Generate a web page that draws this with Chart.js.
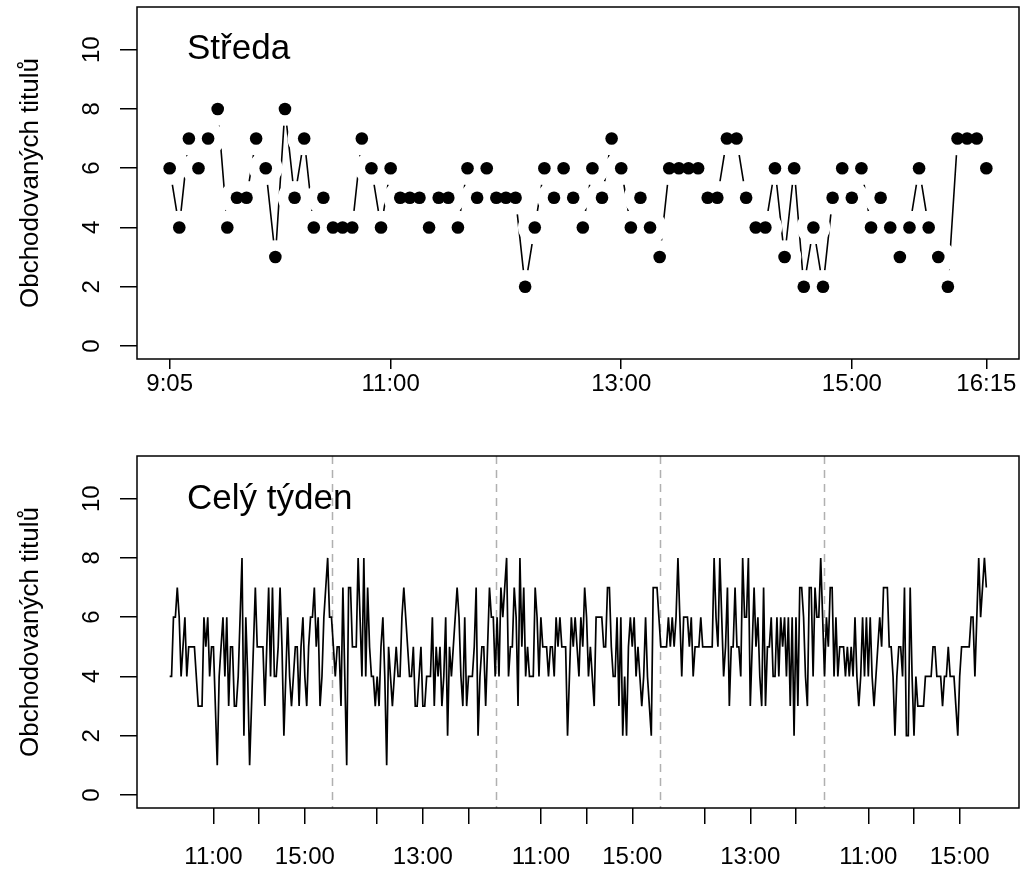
<!DOCTYPE html>
<html>
<head>
<meta charset="utf-8">
<script src="https://cdn.jsdelivr.net/npm/chart.js@4.4.1/dist/chart.umd.min.js"></script>
<style>
  body { margin: 0; background: #fff; }
  canvas { position: absolute; left: 0; }
</style>
</head>
<body>
<canvas id="wed" width="1027" height="435" style="top:0"></canvas>
<canvas id="week" width="1027" height="435" style="top:435px"></canvas>
<script>
// traded titles per 5-minute slot, one array per day (Mon..Fri)
const mon = [4,4,6,6,7,6,4,5,6,4, 5,5,5,5,4,3,3,3,6,5, 6,4,5,5,3,1,4,5,6,4, 6,3,5,5,3,3,4,6,8,2,
             6,4,1,3,5,7,5,5,5,5, 3,5,7,4,7,4,4,5,7,5, 2,4,6,4,3,4,5,5,3,5, 6,4,3,5,6,6,7,5,6,3,
             4,6,7,8,6,6];
const tue = [5,4,5,5,3,7,4,1,7,7, 5,5,5,8,6,4,8,4,7,5, 4,4,3,4,3,5,6,4,1,5, 4,3,4,5,4,4,6,7,6,5,
             4,4,5,3,3,4,5,3,3,4, 4,4,6,3,5,4,5,3,4,6, 2,5,4,5,6,7,6,4,3,6, 3,4,4,4,5,7,2,4,5,5,
             3,5,7,6,6,4];
const wed = [6,4,7,6,7,8,4,5,5,7, 6,3,8,5,7,4,5,4,4,4, 7,6,4,6,5,5,5,4,5,5, 4,6,5,6,5,5,5,2,4,6,
             5,6,5,4,6,5,7,6,4,5, 4,3,6,6,6,6,5,5,7,7, 5,4,4,6,3,6,2,4,2,5, 6,5,6,4,5,4,3,4,6,4,
             3,2,7,7,7,6];
const thu = [5,5,5,5,6,5,6,5,6,8, 6,4,6,6,6,5,6,4,5,5, 5,6,5,5,5,5,5,5,8,6, 5,8,6,4,5,7,3,5,5,7,
             5,5,4,8,6,6,8,3,5,7, 5,6,4,3,7,3,5,5,6,4, 4,6,4,6,5,6,4,6,3,6, 2,6,3,7,7,6,4,3,7,7,
             4,7,6,6,8,6];
const fri = [4,6,5,7,7,4,6,4,5,5, 5,4,5,4,5,4,6,4,3,4, 6,4,6,4,6,4,3,4,5,6, 5,7,7,7,5,5,4,2,4,5,
             5,4,7,2,2,7,4,2,4,3, 3,3,3,4,4,4,4,5,5,4, 4,4,3,4,4,5,4,4,4,3, 2,4,5,5,5,5,5,6,6,4,
             6,8,6,7,8,7];

const wedTickPos = [0, 23, 47, 71, 85];
const wedTickLabels = ["9:05", "11:00", "13:00", "15:00", "16:15"];
const weekTickPos = [23,47,71, 109,133,157, 195,219,243, 281,305,329, 367,391,415];
const weekTickLabels = ["11:00","","15:00", "","13:00","", "11:00","","15:00", "","13:00","", "11:00","","15:00"];
const dayBreaks = [85.5, 171.5, 257.5, 343.5];
const yTicks = [0, 2, 4, 6, 8, 10];
const yTitle = "Obchodovaných titulů";

const FONT = "'Liberation Sans', Arial, sans-serif";
Chart.defaults.font.family = FONT;
Chart.defaults.color = "#000";

// R-like extras: box, rotated y labels, panel caption, day separators, gaps for type="b"
const rLook = {
  id: "rLook",
  beforeDatasetsDraw(chart, args, o) {
    const { ctx, chartArea: a, scales: { x } } = chart;
    (o.breaks || []).forEach(b => {
      const px = Math.round(x.getPixelForValue(b)) + 0.5;
      ctx.save();
      ctx.strokeStyle = "#b0b0b0";
      ctx.lineWidth = 1.5;
      ctx.setLineDash([8, 6]);
      ctx.beginPath();
      ctx.moveTo(px, a.top);
      ctx.lineTo(px, a.bottom);
      ctx.stroke();
      ctx.restore();
    });
  },
  beforeDatasetDraw(chart, args, o) {
    if (!o.gap || args.index !== 0) return;
    const ctx = chart.ctx;
    ctx.save();
    chart.getDatasetMeta(1).data.forEach(p => {
      ctx.beginPath();
      ctx.rect(0, 0, chart.width, chart.height);
      ctx.moveTo(p.x + o.gap, p.y);
      ctx.arc(p.x, p.y, o.gap, 0, Math.PI * 2);
      ctx.clip("evenodd");
    });
  },
  afterDatasetDraw(chart, args, o) {
    if (!o.gap || args.index !== 0) return;
    chart.ctx.restore();
  },
  afterDraw(chart, args, o) {
    const { ctx, chartArea: a, scales: { y } } = chart;
    ctx.save();
    ctx.strokeStyle = "#000";
    ctx.lineWidth = 1.5;
    ctx.strokeRect(a.left, a.top, a.right - a.left, a.bottom - a.top);
    ctx.fillStyle = "#000";
    ctx.font = "24px " + FONT;
    ctx.textAlign = "center";
    ctx.textBaseline = "middle";
    y.ticks.forEach(t => {
      ctx.save();
      ctx.translate(92, y.getPixelForValue(t.value));
      ctx.rotate(-Math.PI / 2);
      ctx.fillText(String(t.value), 0, 0);
      ctx.restore();
    });
    ctx.font = "35px " + FONT;
    ctx.textAlign = "left";
    ctx.textBaseline = "alphabetic";
    ctx.fillText(o.caption, a.left + 50, a.top + o.capY);
    ctx.restore();
  }
};

function yScale() {
  return {
    type: "linear",
    min: -0.44, max: 11.44,
    afterBuildTicks: s => { s.ticks = yTicks.map(v => ({ value: v })); },
    afterFit: s => { s.width = 137; },
    ticks: { display: false },
    grid: { drawOnChartArea: false, drawTicks: true, tickLength: 17, color: "#000", lineWidth: 1.5 },
    border: { display: false },
    title: { display: true, text: yTitle, font: { size: 26 }, padding: { top: 15 } }
  };
}

function xScale(n, pos, labels, h, tl, pad) {
  const padX = (n - 1) * 0.04;
  return {
    type: "linear",
    min: -padX, max: n - 1 + padX,
    afterBuildTicks: s => { s.ticks = pos.map(v => ({ value: v })); },
    afterFit: s => { s.height = h; },
    ticks: {
      autoSkip: false, maxRotation: 0, minRotation: 0, padding: pad,
      font: { size: 24 },
      callback: (v, i) => labels[i]
    },
    grid: { drawOnChartArea: false, drawTicks: true, tickLength: tl, color: "#000", lineWidth: 1.5 },
    border: { display: false }
  };
}

new Chart(document.getElementById("wed"), {
  type: "line",
  data: {
    datasets: [
      { data: wed.map((v, i) => ({ x: i, y: v })), borderColor: "#000", borderWidth: 1.6,
        pointRadius: 0, tension: 0 },
      { data: wed.map((v, i) => ({ x: i, y: v })), showLine: false, pointRadius: 6.3,
        pointBackgroundColor: "#000", pointBorderWidth: 0, pointHoverRadius: 6.3 }
    ]
  },
  options: {
    responsive: false, animation: false, devicePixelRatio: 1,
    layout: { padding: { top: 7, right: 8, left: 0, bottom: 0 } },
    scales: { x: xScale(wed.length, wedTickPos, wedTickLabels, 76, 10, 1), y: yScale() },
    plugins: {
      legend: { display: false }, tooltip: { enabled: false },
      rLook: { caption: "Středa", capY: 52, gap: 16.8 }
    }
  },
  plugins: [rLook]
});

const week = [...mon, ...tue, ...wed, ...thu, ...fri];

new Chart(document.getElementById("week"), {
  type: "line",
  data: {
    datasets: [
      { data: week.map((v, i) => ({ x: i, y: v })), borderColor: "#000", borderWidth: 1.7,
        pointRadius: 0, tension: 0 }
    ]
  },
  options: {
    responsive: false, animation: false, devicePixelRatio: 1,
    layout: { padding: { top: 21, right: 8, left: 0, bottom: 0 } },
    scales: { x: xScale(week.length, weekTickPos, weekTickLabels, 62, 16, 19), y: yScale() },
    plugins: {
      legend: { display: false }, tooltip: { enabled: false },
      rLook: { caption: "Celý týden", capY: 53, breaks: dayBreaks }
    }
  },
  plugins: [rLook]
});
</script>
</body>
</html>
